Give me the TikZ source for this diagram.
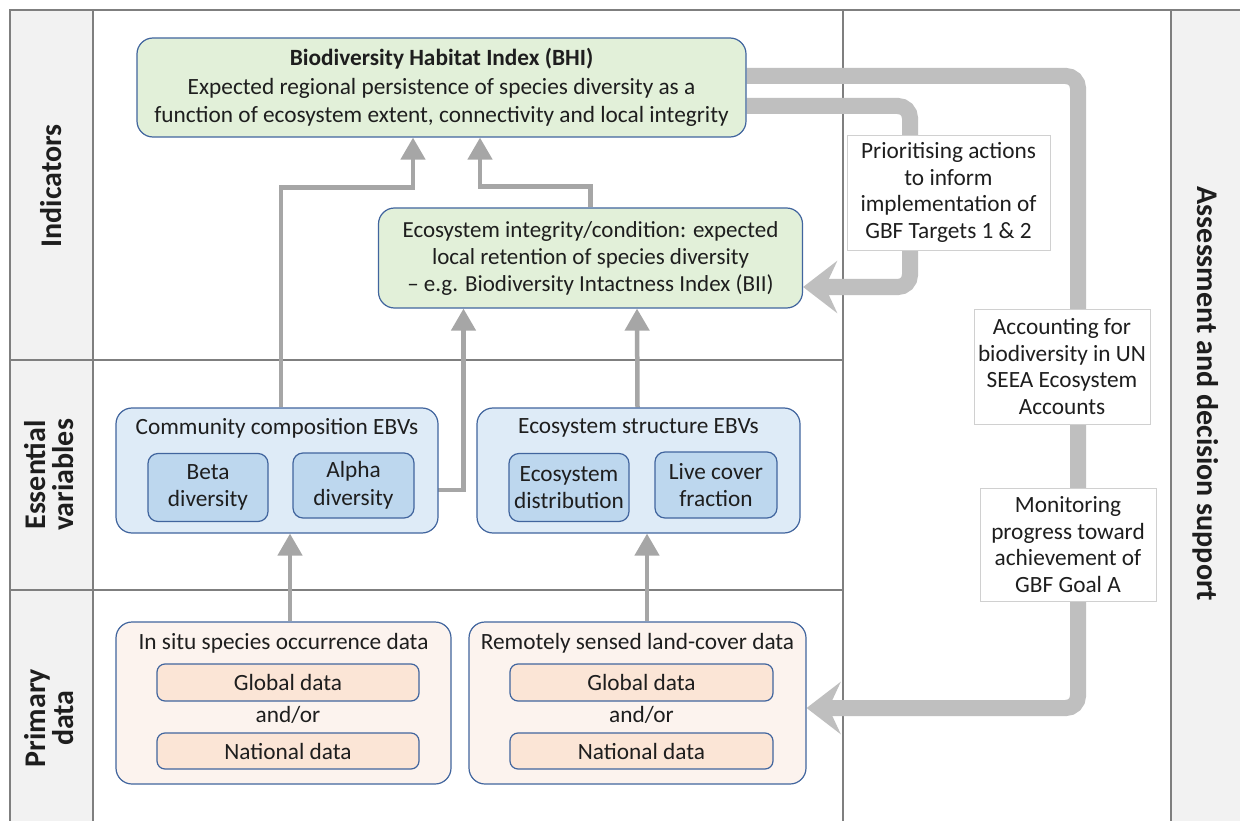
\documentclass[tikz,border=0pt]{standalone}
\usepackage{fontspec}
\setmainfont{Carlito}
\usetikzlibrary{arrows.meta,calc}
\definecolor{frameg}{HTML}{7F7F7F}
\definecolor{colfill}{HTML}{F2F2F2}
\definecolor{boxblue}{HTML}{41659E}
\definecolor{gfill}{HTML}{E2F0D9}
\definecolor{bfill}{HTML}{DEEBF7}
\definecolor{bin}{HTML}{BDD7EE}
\definecolor{pfill}{HTML}{FCF3EE}
\definecolor{pin}{HTML}{FBE5D6}
\definecolor{thinc}{HTML}{A6A6A6}
\definecolor{thickc}{HTML}{BFBFBF}
\definecolor{txt}{HTML}{1E1E1E}
\definecolor{tbord}{HTML}{D0D0D0}
\pgfdeclarelayer{framelayer}
\pgfdeclarelayer{connlayer}
\pgfsetlayers{framelayer,connlayer,main}
\begin{document}
\begin{tikzpicture}[x=1pt,y=-1pt,
  every node/.style={text=txt, font=\fontsize{23.3}{27.5}\selectfont},
  rbox/.style={draw=boxblue, line width=1.2pt, rounded corners=16pt, align=center, inner sep=0pt},
  gbox/.style={rbox, fill=gfill},
  bbox/.style={rbox, fill=bfill},
  bibox/.style={rbox, fill=bin, rounded corners=10pt},
  pbox/.style={rbox, fill=pfill},
  pibox/.style={rbox, fill=pin, rounded corners=8pt},
  tbox/.style={draw=tbord, line width=0.8pt, fill=white, align=center, inner sep=0pt, font=\fontsize{23.3}{26.5}\selectfont},
  ttl/.style={inner sep=0pt},
  side/.style={font=\fontsize{30}{28}\selectfont\bfseries, align=center, inner sep=0pt},
  thinarr/.style={draw=thinc, line width=4.5pt, -{Triangle[length=22pt,width=24pt]}},
  thickarr/.style={draw=thickc, line width=16pt, rounded corners=12pt, -{Stealth[length=34pt,width=52pt,inset=12pt]}},
  frameline/.style={draw=frameg, line width=2pt}
]
\useasboundingbox (0,0) rectangle (1240,821);

% frame
\begin{pgfonlayer}{framelayer}
\fill[white] (0,0) rectangle (1240,821);
\fill[colfill] (10,10) rectangle (93,821);
\fill[colfill] (1171,10) rectangle (1240,821);
\draw[frameline] (10,821) -- (10,10) -- (1240,10);
\draw[frameline] (93,10) -- (93,821);
\draw[frameline] (843,10) -- (843,821);
\draw[frameline] (1171,10) -- (1171,821);
\draw[frameline] (10,360) -- (843,360);
\draw[frameline] (10,590) -- (843,590);
\end{pgfonlayer}

% side labels
\node[side, rotate=90] (Ind) at (51,186) {Indicators};
\node[side, rotate=90] (EV) at (49,475) {Essential\\variables};
\node[side, rotate=90] (PD) at (49,718) {Primary\\data};
\node[side, rotate=-90] (ADS) at (1206,394) {Assessment and decision support};

% indicators
\node[gbox, minimum width=609pt, minimum height=99pt, font=\fontsize{23.3}{28.5}\selectfont] (BHI) at (441.5,87.5)
  {\textbf{Biodiversity Habitat Index (BHI)}\\Expected regional persistence of species diversity as a\\function of ecosystem extent, connectivity and local integrity};
\node[gbox, minimum width=424pt, minimum height=100pt, font=\fontsize{23}{27}\selectfont] (EI) at (590.5,258)
  {Ecosystem integrity/condition: expected\\local retention of species diversity\\– e.g. Biodiversity Intactness Index (BII)};

% essential variables
\node[bbox, minimum width=322pt, minimum height=125pt] (CC) at (277,470.5) {};
\node[ttl] (CCt) at (277,428) {Community composition EBVs};
\node[bibox, minimum width=120pt, minimum height=68pt] (Beta) at (208,487.5) {Beta\\diversity};
\node[bibox, minimum width=121pt, minimum height=65pt] (Alpha) at (353.5,485.5) {Alpha\\diversity};
\node[bbox, minimum width=323pt, minimum height=125pt] (ES) at (638.5,470.5) {};
\node[ttl] (ESt) at (638.5,428) {Ecosystem structure EBVs};
\node[bibox, minimum width=120pt, minimum height=68pt] (EcoD) at (569,487.5) {Ecosystem\\distribution};
\node[bibox, minimum width=122pt, minimum height=66pt] (Live) at (716,485) {Live cover\\fraction};

% primary data
\node[pbox, minimum width=335pt, minimum height=162pt] (InSitu) at (283.5,703) {};
\node[ttl] (InSitut) at (283.5,643) {In situ species occurrence data};
\node[pibox, minimum width=262pt, minimum height=37pt] (Glob1) at (288,682.5) {Global data};
\node[ttl] (AO1) at (288,715) {and/or};
\node[pibox, minimum width=262pt, minimum height=36pt] (Nat1) at (288,751) {National data};
\node[pbox, minimum width=337pt, minimum height=162pt] (Remote) at (637.5,703) {};
\node[ttl] (Remotet) at (637.5,643) {Remotely sensed land-cover data};
\node[pibox, minimum width=263pt, minimum height=37pt] (Glob2) at (641.5,682.5) {Global data};
\node[ttl] (AO2) at (641.5,715) {and/or};
\node[pibox, minimum width=263pt, minimum height=36pt] (Nat2) at (641.5,751) {National data};

% assessment boxes
\node[tbox, minimum width=203pt, minimum height=115pt] (Prio) at (948.5,192.5)
  {Prioritising actions\\to inform\\implementation of\\GBF Targets 1 \& 2};
\node[tbox, minimum width=176pt, minimum height=115pt] (Acc) at (1062,366.5)
  {Accounting for\\biodiversity in UN\\SEEA Ecosystem\\Accounts};
\node[tbox, minimum width=176pt, minimum height=113pt] (Mon) at (1068,544.5)
  {Monitoring\\progress toward\\achievement of\\GBF Goal A};

% connectors
\begin{pgfonlayer}{connlayer}
\draw[thinarr] ([xshift=4pt]CC.north) -- ++(0,-220) -| ([xshift=-28.5pt]BHI.south);
\draw[thinarr] (EI.north) -- ++(0,-21) -| ([xshift=38.5pt]BHI.south);
\draw[thinarr] ([yshift=-4.5pt]Alpha.east) -| ([xshift=-127pt]EI.south);
\draw[thinarr] ([xshift=-1pt]ES.north) -- ([xshift=46.5pt]EI.south);
\draw[thinarr] ([xshift=6.5pt]InSitu.north) -- ([xshift=13pt]CC.south);
\draw[thinarr] ([xshift=9.5pt]Remote.north) -- ([xshift=8.5pt]ES.south);
\draw[thickarr] ([yshift=11.5pt]BHI.east) -| (1078,708) -- ([yshift=-5pt]Remote.east);
\draw[thickarr] ([yshift=-18.5pt]BHI.east) -| (910,287) -- ([yshift=-29pt]EI.east);
\end{pgfonlayer}
\end{tikzpicture}
\end{document}
